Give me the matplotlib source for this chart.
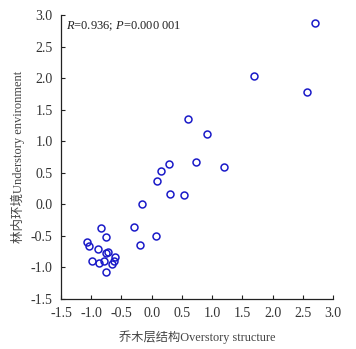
import matplotlib
matplotlib.use("Agg")
import matplotlib.pyplot as plt

# Data
overstory = [2.71, 1.69, 2.57, 0.60, 0.92, 0.29, 0.73, 1.20, 0.15, 0.09, 0.31, 0.54,
             -0.155, -0.30, 0.077, -0.198, -0.843, -0.76, -1.065, -1.03, -0.888, -0.717,
             -0.755, -0.99, -0.866, -0.79, -0.607, -0.618, -0.656, -0.76]
understory = [2.87, 2.03, 1.78, 1.35, 1.12, 0.64, 0.675, 0.59, 0.53, 0.37, 0.16, 0.14,
              0.0, -0.36, -0.50, -0.645, -0.38, -0.52, -0.59, -0.66, -0.70, -0.75,
              -0.77, -0.89, -0.925, -0.90, -0.84, -0.90, -0.946, -1.08]
xticks = [-1.5, -1.0, -0.5, 0.0, 0.5, 1.0, 1.5, 2.0, 2.5, 3.0]
yticks = [-1.5, -1.0, -0.5, 0.0, 0.5, 1.0, 1.5, 2.0, 2.5, 3.0]
xlabel = "乔木层结构Overstory structure"
ylabel = "林内环境Understory environment"

plt.rcParams['font.family'] = ['Liberation Serif', 'Noto Sans CJK SC']
plt.rcParams['mathtext.fontset'] = 'custom'
plt.rcParams['mathtext.it'] = 'Liberation Serif:italic'
plt.rcParams['mathtext.rm'] = 'Liberation Serif'

fig = plt.figure(figsize=(3.56, 3.49), dpi=100)
ax = fig.add_axes([61/356, 1-299/349, (333-61)/356, (299-15)/349])

ax.plot(overstory, understory, linestyle='none', marker='o', markersize=5,
        markerfacecolor='none', markeredgecolor='#1a1ac8', markeredgewidth=1.1,
        clip_on=False)

ax.set_xlim(-1.5, 3.0)
ax.set_ylim(-1.5, 3.0)
ax.set_xticks(xticks)
ax.set_yticks(yticks)
ax.set_xticklabels([f"{t:.1f}" for t in xticks])
ax.set_yticklabels([f"{t:.1f}" for t in yticks])
ax.tick_params(direction='in', length=3, width=0.8, labelsize=10,
               labelcolor='#333333', color='#222222', pad=6)
for s in ['top', 'right']:
    ax.spines[s].set_visible(False)
for s in ['left', 'bottom']:
    ax.spines[s].set_linewidth(0.9)
    ax.spines[s].set_color('#222222')

ax.set_xlabel(xlabel, fontsize=8.8, color='#444444', labelpad=7)
ax.set_ylabel(ylabel, fontsize=9, color='#444444', labelpad=4)

ax.text(0.02, 0.96, r"$\mathit{R}$=0.936; $\mathit{P}$=0.000 001", transform=ax.transAxes,
        fontsize=9, color='#222222', va='center', ha='left')

fig.savefig("out.png", dpi=100)
